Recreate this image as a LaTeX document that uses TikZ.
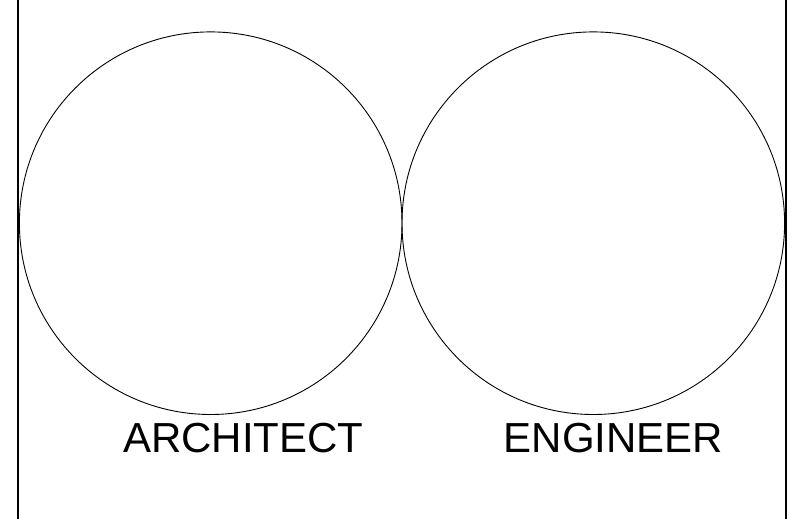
\documentclass[tikz,border=0pt]{standalone}
\usepackage{fontspec}
\setmainfont{Liberation Sans}
\begin{document}
\begin{tikzpicture}[x=1pt,y=-1pt,
  venn/.style={circle,draw=black,line width=0.9pt,minimum size=382.6pt,inner sep=0pt},
  lbl/.style={inner sep=0pt,anchor=base west,font=\fontsize{42}{48}\selectfont},
  frame/.style={line width=2pt}]
\useasboundingbox (0,0) rectangle (808,519);
\fill[white] (0,0) rectangle (808,519);
\coordinate (tl) at (18.3,0);
\coordinate (bl) at (18.3,519);
\coordinate (tr) at (786,0);
\coordinate (br) at (786,519);
\draw[frame] (tl) -- (bl);
\draw[frame] (tr) -- (br);
\node[venn] (arch) at (210.7,223.2) {};
\node[venn] (eng) at (593.3,223.2) {};
\node[lbl] (archl) at (123,452) {ARCHITECT};
\node[lbl] (engl) at (503.7,452) {ENGINEER};
\end{tikzpicture}
\end{document}
